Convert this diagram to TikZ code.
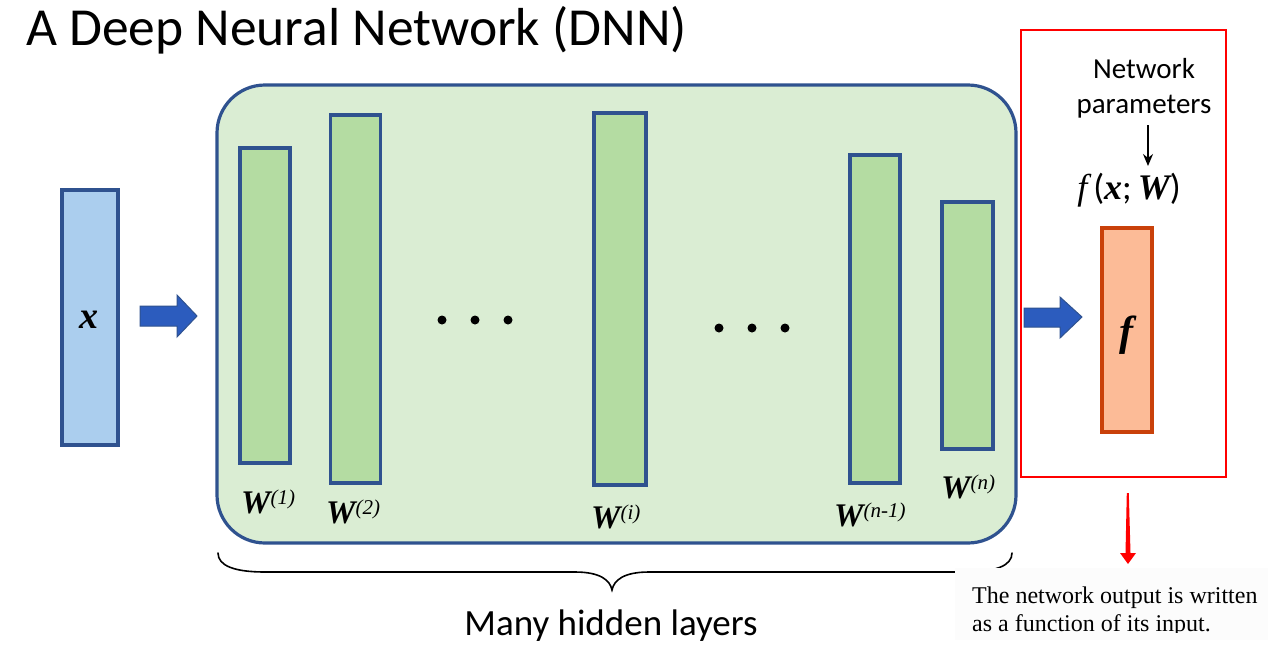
\documentclass[tikz,border=0pt]{standalone}
\usepackage{fontspec}
\setmainfont{Carlito}
\newfontfamily\tms{Liberation Serif}
\usetikzlibrary{arrows.meta}
\definecolor{dkblue}{HTML}{2F528F}
\definecolor{inblue}{HTML}{ABCEEE}
\definecolor{arrblue}{HTML}{2C5CBE}
\definecolor{bggreen}{HTML}{DAEDD3}
\definecolor{bargreen}{HTML}{B4DCA2}
\definecolor{outfill}{HTML}{FCBB97}
\definecolor{outline}{HTML}{C9410A}
\definecolor{capbg}{HTML}{FCFCFC}
\newcommand{\wlab}[1]{{\fontsize{33}{33}\selectfont\tms\bfseries\itshape W}\raisebox{9pt}{\fontsize{21}{21}\selectfont\tms\itshape #1}}
\tikzset{
  layerbar/.style={draw=dkblue, fill=bargreen, line width=3.2pt, inner sep=0pt, minimum width=50pt},
  dotmark/.style={circle, fill=black, inner sep=0pt, minimum size=9pt},
  blockarrow/.style={fill=arrblue, draw=dkblue, line width=1pt},
}
\begin{document}
\begin{tikzpicture}[x=1pt,y=-1pt]
\useasboundingbox (0,0) rectangle (1280,654);
\fill[white] (0,0) rectangle (1280,654);

% title
\node[anchor=base west, inner sep=0pt, font=\fontsize{53.5}{60}\selectfont] (title) at (26,45) {A Deep Neural Network (DNN)};

% input
\node[draw=dkblue, fill=inblue, line width=3.2pt, inner sep=0pt, minimum width=56pt, minimum height=255pt] (inp) at (90,317.5) {};
\node[font=\fontsize{38}{38}\selectfont\tms\bfseries\itshape] (xlab) at (89,320) {x};

% block arrow 1
\draw[blockarrow] (140,306) -- (177,306) -- (177,295) -- (197,316) -- (177,337) -- (177,326) -- (140,326) -- cycle;

% hidden region
\node[draw=dkblue, fill=bggreen, line width=3.2pt, rounded corners=48pt, inner sep=0pt, minimum width=799pt, minimum height=458pt] (hid) at (616.5,314) {};

% layers
\node[layerbar, minimum height=315pt] (l1) at (265,305.5) {};
\node[layerbar, minimum height=368pt] (l2) at (355.5,299) {};
\node[layerbar, minimum width=52pt, minimum height=372pt] (li) at (620,299) {};
\node[layerbar, minimum height=328pt] (ln1) at (875,319) {};
\node[layerbar, minimum width=51pt, minimum height=247pt] (ln) at (967.5,325.5) {};

% dots
\node[dotmark] (d1) at (442,320) {};
\node[dotmark] (d2) at (475,320) {};
\node[dotmark] (d3) at (508,320) {};
\node[dotmark] (d4) at (719,328) {};
\node[dotmark] (d5) at (752,328) {};
\node[dotmark] (d6) at (785,328) {};

% labels
\node[anchor=base west, inner sep=0pt] (w1) at (241,513) {\wlab{(1)}};
\node[anchor=base west, inner sep=0pt] (w2) at (326,523) {\wlab{(2)}};
\node[anchor=base west, inner sep=0pt] (wi) at (591,528) {\wlab{(i)}};
\node[anchor=base west, inner sep=0pt] (wn1) at (834,526) {\wlab{(n-1)}};
\node[anchor=base west, inner sep=0pt] (wn) at (941,498) {\wlab{(n)}};

% brace
\draw[line width=1.6pt, line cap=round] (218,553) .. controls (218,566) and (235,572) .. (265,572)
  -- (575,572) .. controls (600,572) and (610,580) .. (612,590)
  .. controls (614,580) and (624,572) .. (649,572)
  -- (965,572) .. controls (995,572) and (1012,566) .. (1012,553);
\node[font=\fontsize{37}{40}\selectfont, anchor=base] (many) at (611,635) {Many hidden layers};

% red box
\node[draw=red, line width=2pt, inner sep=0pt, minimum width=205pt, minimum height=447pt] (rbox) at (1123.5,253.5) {};

% block arrow 2
\draw[blockarrow] (1024,308) -- (1060,308) -- (1060,297) -- (1082,317) -- (1060,338) -- (1060,327) -- (1024,327) -- cycle;

% params
\node[font=\fontsize{29}{35}\selectfont, align=center, inner sep=0pt] (params) at (1144,88) {Network\\parameters};
\node[font=\fontsize{36}{36}\selectfont, inner sep=0pt, anchor=base] (fxw) at (1129,199) {{\tms\itshape f}\,({\tms\bfseries\itshape x};\,{\tms\bfseries\itshape W})};
\coordinate (pa) at (1148,125);
\coordinate (pb) at (1148,166);
\draw[line width=1.5pt, -{Stealth[length=12pt,width=10pt]}] (pa) -- (pb);

% output
\node[draw=outline, fill=outfill, line width=3.2pt, inner sep=0pt, minimum width=50pt, minimum height=204pt] (outb) at (1127,330) {};
\node[font=\fontsize{42}{42}\selectfont\tms\bfseries\itshape] (flab) at (1126,335) {f};

% red arrow
\fill[red] (1126.8,493) -- (1128.8,493) -- (1130.5,553) -- (1136,553) -- (1128,564) -- (1120,553) -- (1125.5,553) -- cycle;

% caption
\fill[capbg] (955,568) rectangle (1268,640);
\begin{scope}
\clip (950,566) rectangle (1275,632);
\node[anchor=north west, inner sep=0pt, align=left, font=\fontsize{24}{28}\selectfont\tms] (cap) at (972,587) {The network output is written\\as a function of its input.};
\end{scope}
\end{tikzpicture}
\end{document}
